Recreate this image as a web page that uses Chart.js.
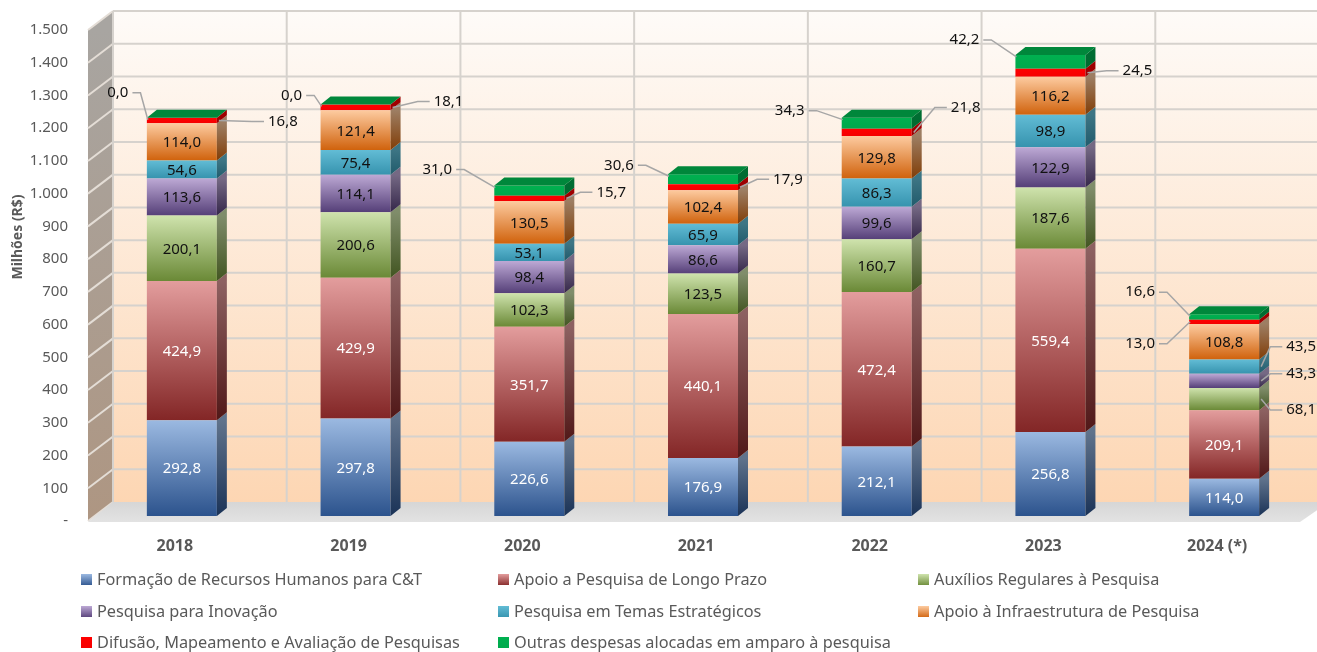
<!DOCTYPE html>
<html>
<head>
<meta charset="utf-8">
<script src="https://cdn.jsdelivr.net/npm/chart.js@4.4.1/dist/chart.umd.min.js"></script>
<style>
  html, body { margin: 0; padding: 0; background: #fff; }
  #chart { display: block; }
</style>
</head>
<body>
<canvas id="chart" width="1317" height="652"></canvas>
<script>
// values (millions R$)
const years = ['2018', '2019', '2020', '2021', '2022', '2023', '2024 (*)'];
const formacao = [292.8, 297.8, 226.6, 176.9, 212.1, 256.8, 114.0];
const apoioLongo = [424.9, 429.9, 351.7, 440.1, 472.4, 559.4, 209.1];
const auxilios = [200.1, 200.6, 102.3, 123.5, 160.7, 187.6, 68.1];
const inovacao = [113.6, 114.1, 98.4, 86.6, 99.6, 122.9, 43.3];
const temas = [54.6, 75.4, 53.1, 65.9, 86.3, 98.9, 43.5];
const infraestrutura = [114.0, 121.4, 130.5, 102.4, 129.8, 116.2, 108.8];
const difusao = [16.8, 18.1, 15.7, 17.9, 21.8, 24.5, 13.0];
const outras = [0.0, 0.0, 31.0, 30.6, 34.3, 42.2, 16.6];

const seriesNames = [
  'Formação de Recursos Humanos para C&T',
  'Apoio a Pesquisa de Longo Prazo',
  'Auxílios Regulares à Pesquisa',
  'Pesquisa para Inovação',
  'Pesquisa em Temas Estratégicos',
  'Apoio à Infraestrutura de Pesquisa',
  'Difusão, Mapeamento e Avaliação de Pesquisas',
  'Outras despesas alocadas em amparo à pesquisa'
];
const seriesValues = [formacao, apoioLongo, auxilios, inovacao, temas, infraestrutura, difusao, outras];

// look
const FONT = '"Noto Sans", "Open Sans", sans-serif';
const palette = [
  { top: '#9bb9e1', bot: '#2c538d' },
  { top: '#e39d9d', bot: '#832626' },
  { top: '#cfe3ad', bot: '#6a8936' },
  { top: '#bda9d5', bot: '#553f78' },
  { top: '#62bcd5', bot: '#3693ae' },
  { top: '#fdcba0', bot: '#d0620c' },
  { top: '#ff0000', bot: '#f40000' },
  { top: '#00b050', bot: '#00a94c' }
];
const labelColors = ['#ffffff', '#ffffff', '#111', '#111', '#111', '#111', '#111', '#111'];

const WALL_DX = 25, WALL_DY = 19;   // depth of the back wall
const BAR_DX = 7, BAR_DY = 5;       // bars sit a bit behind the front plane
const BOX_DX = 10, BOX_DY = 8;      // bar depth

// callouts: [dataset, year, dx, dy, side]  (label offset from the anchor)
const callouts = [
  [7, 0, -30, -27, 'L'], [6, 0, 64, 1, 'R'],
  [7, 1, -30, -11, 'L'], [6, 1, 56, -6, 'R'],
  [7, 2, -58, -18, 'L'], [6, 2, 45, -6, 'R'],
  [7, 3, -50, -11, 'L'], [6, 3, 48, -8, 'R'],
  [7, 4, -53, -9, 'L'], [6, 4, 52, -25, 'R'],
  [7, 5, -52, -17, 'L'], [6, 5, 50, -2, 'R'],
  [7, 6, -50, -24, 'L'], [6, 6, -50, 22, 'L'],
  [4, 6, 40, -20, 'R'], [3, 6, 40, -7, 'R'], [2, 6, 40, 11, 'R']
];

function shade(hex, f) {
  const n = parseInt(hex.slice(1), 16);
  const r = Math.round(((n >> 16) & 255) * f);
  const g = Math.round(((n >> 8) & 255) * f);
  const b = Math.round((n & 255) * f);
  return `rgb(${r},${g},${b})`;
}

function fmt(v) {
  return v.toFixed(1).replace('.', ',');
}

function stackRange(ds, i) {
  let start = 0;
  for (let k = 0; k < ds; k++) start += seriesValues[k][i];
  return [start, start + seriesValues[ds][i]];
}

function frontFill(context) {
  const chart = context.chart;
  const p = palette[context.datasetIndex];
  if (!chart.chartArea || context.type !== 'data') return p.top;
  const y = chart.scales.y;
  const [a, b] = stackRange(context.datasetIndex, context.dataIndex);
  const yTop = y.getPixelForValue(b), yBot = y.getPixelForValue(a);
  if (Math.abs(yBot - yTop) < 1) return p.top;
  const g = chart.ctx.createLinearGradient(0, yTop, 0, yBot);
  g.addColorStop(0, p.top);
  g.addColorStop(1, p.bot);
  return g;
}

const scene3d = {
  id: 'scene3d',
  beforeDraw(chart) {
    const { ctx, chartArea: ca, scales } = chart;
    const y = scales.y;
    const bottom = y.getPixelForValue(0), top = y.getPixelForValue(1500);
    ctx.save();
    // back wall
    const wg = ctx.createLinearGradient(0, top - WALL_DY, 0, bottom - WALL_DY);
    wg.addColorStop(0, '#fefbf8');
    wg.addColorStop(1, '#fdd6b3');
    ctx.fillStyle = wg;
    ctx.fillRect(ca.left + WALL_DX, top - WALL_DY, chart.width - ca.left - WALL_DX, bottom - top);
    // left wall
    const lg = ctx.createLinearGradient(0, top, 0, bottom);
    lg.addColorStop(0, '#a8a5a1');
    lg.addColorStop(1, '#ae9682');
    ctx.fillStyle = lg;
    ctx.beginPath();
    ctx.moveTo(ca.left, top);
    ctx.lineTo(ca.left + WALL_DX, top - WALL_DY);
    ctx.lineTo(ca.left + WALL_DX, bottom - WALL_DY);
    ctx.lineTo(ca.left, bottom);
    ctx.closePath();
    ctx.fill();
    // grid lines
    ctx.lineWidth = 2;
    y.ticks.forEach(t => {
      const py = y.getPixelForValue(t.value);
      if (t.value > 0) {
        ctx.strokeStyle = '#d6d2cd';
        ctx.beginPath();
        ctx.moveTo(ca.left + WALL_DX, py - WALL_DY);
        ctx.lineTo(chart.width, py - WALL_DY);
        ctx.stroke();
      }
      ctx.strokeStyle = '#e4ddd6';
      ctx.beginPath();
      ctx.moveTo(ca.left, py);
      ctx.lineTo(ca.left + WALL_DX, py - WALL_DY);
      ctx.stroke();
    });
    ctx.strokeStyle = '#d6d2cd';
    const w = (ca.right - ca.left) / years.length;
    for (let k = 0; k < years.length; k++) {
      const px = ca.left + k * w + WALL_DX;
      ctx.beginPath();
      ctx.moveTo(px, top - WALL_DY);
      ctx.lineTo(px, bottom - WALL_DY);
      ctx.stroke();
    }
    // floor
    const fg = ctx.createLinearGradient(0, bottom - WALL_DY, 0, bottom);
    fg.addColorStop(0, '#d6d6d6');
    fg.addColorStop(1, '#e2e2e2');
    ctx.fillStyle = fg;
    ctx.beginPath();
    ctx.moveTo(ca.left, bottom + 1);
    ctx.lineTo(ca.left + WALL_DX, bottom - WALL_DY);
    ctx.lineTo(ca.right + WALL_DX, bottom - WALL_DY);
    ctx.lineTo(ca.right - 4, bottom + 1);
    ctx.closePath();
    ctx.fill();
    ctx.restore();
  },
  beforeDatasetsDraw(chart) {
    chart.ctx.save();
    chart.ctx.translate(BAR_DX, -BAR_DY);
  },
  afterDatasetsDraw(chart) {
    const ctx = chart.ctx;
    const n = seriesValues.length;
    // side and top faces
    for (let d = 0; d < n; d++) {
      const meta = chart.getDatasetMeta(d);
      const p = palette[d];
      meta.data.forEach((el) => {
        const { x, y, base, width } = el.getProps(['x', 'y', 'base', 'width'], true);
        const t = Math.min(y, base), b = Math.max(y, base);
        const r = x + width / 2, l = x - width / 2;
        if (b - t > 0.5) {
          const sg = ctx.createLinearGradient(0, t, 0, b);
          sg.addColorStop(0, shade(p.top, 0.62));
          sg.addColorStop(1, shade(p.bot, 0.62));
          ctx.fillStyle = sg;
          ctx.beginPath();
          ctx.moveTo(r, t);
          ctx.lineTo(r + BOX_DX, t - BOX_DY);
          ctx.lineTo(r + BOX_DX, b - BOX_DY);
          ctx.lineTo(r, b);
          ctx.closePath();
          ctx.fill();
        }
        if (d === n - 1) {
          ctx.fillStyle = '#00873b';
          ctx.beginPath();
          ctx.moveTo(l, t);
          ctx.lineTo(l + BOX_DX, t - BOX_DY);
          ctx.lineTo(r + BOX_DX, t - BOX_DY);
          ctx.lineTo(r, t);
          ctx.closePath();
          ctx.fill();
        }
      });
    }
    // inside labels
    const outside = new Set(callouts.map(c => c[0] + ':' + c[1]));
    ctx.font = '15px ' + FONT;
    ctx.textAlign = 'center';
    ctx.textBaseline = 'middle';
    for (let d = 0; d < n; d++) {
      const meta = chart.getDatasetMeta(d);
      meta.data.forEach((el, i) => {
        if (outside.has(d + ':' + i)) return;
        const { x, y, base } = el.getProps(['x', 'y', 'base'], true);
        ctx.fillStyle = labelColors[d];
        ctx.fillText(fmt(seriesValues[d][i]), x, (y + base) / 2 + 1);
      });
    }
    ctx.restore();

    // callouts with leader lines
    ctx.save();
    ctx.font = '15px ' + FONT;
    ctx.textAlign = 'center';
    ctx.textBaseline = 'middle';
    callouts.forEach(([d, i, dx, dy, side]) => {
      const el = chart.getDatasetMeta(d).data[i];
      const { x, y, base, width } = el.getProps(['x', 'y', 'base', 'width'], true);
      const t = Math.min(y, base) - BAR_DY, mid = (y + base) / 2 - BAR_DY;
      let ax, ay;
      if (d === n - 1) { ax = x - width / 2 + BAR_DX + 1; ay = t + 2; }
      else if (dx < 0) { ax = x - width / 2 + BAR_DX + 1; ay = mid; }
      else { ax = x + width / 2 + BAR_DX + 2; ay = mid; }
      const lx = ax + dx, ly = ay + dy;
      const text = fmt(seriesValues[d][i]);
      const tw = ctx.measureText(text).width;
      ctx.strokeStyle = '#a6a6a6';
      ctx.lineWidth = 1.5;
      ctx.beginPath();
      if (side === 'L') {
        ctx.moveTo(lx + tw / 2 + 4, ly);
        ctx.lineTo(lx + tw / 2 + 12, ly);
      } else {
        ctx.moveTo(lx - tw / 2 - 4, ly);
        ctx.lineTo(lx - tw / 2 - 16, ly);
      }
      ctx.lineTo(ax, ay);
      ctx.stroke();
      ctx.fillStyle = '#111';
      ctx.fillText(text, lx, ly);
    });
    ctx.restore();
  },
  afterDraw(chart) {
    const ctx = chart.ctx;
    ctx.save();
    // axis title
    ctx.translate(18, 237);
    ctx.rotate(-Math.PI / 2);
    ctx.font = 'bold 14px ' + FONT;
    ctx.fillStyle = '#595959';
    ctx.textAlign = 'center';
    ctx.textBaseline = 'middle';
    ctx.fillText('Milhões (R$)', 0, 0);
    ctx.restore();
    // legend, three columns
    const cols = [81, 498, 918], rows = [580, 612, 643];
    ctx.save();
    ctx.font = '16.3px ' + FONT;
    ctx.textBaseline = 'middle';
    seriesNames.forEach((name, k) => {
      const cx = cols[k % 3], cy = rows[Math.floor(k / 3)];
      const p = palette[k];
      const g = ctx.createLinearGradient(0, cy - 6, 0, cy + 6);
      g.addColorStop(0, p.top);
      g.addColorStop(1, p.bot);
      ctx.fillStyle = g;
      ctx.fillRect(cx, cy - 6, 11, 11);
      ctx.fillStyle = '#595959';
      ctx.fillText(name, cx + 16, cy);
    });
    ctx.restore();
  }
};

new Chart(document.getElementById('chart'), {
  type: 'bar',
  data: {
    labels: years,
    datasets: seriesValues.map((vals, k) => ({
      label: seriesNames[k],
      data: vals,
      backgroundColor: frontFill,
      borderWidth: 0,
      categoryPercentage: 1,
      barPercentage: 0.403
    }))
  },
  options: {
    responsive: false,
    animation: false,
    layout: { padding: { top: 30, right: 13, left: 0, bottom: 0 } },
    scales: {
      x: {
        stacked: true,
        grid: { display: false, drawTicks: false },
        border: { display: false },
        ticks: { color: '#595959', padding: 16, font: { family: FONT, size: 16, weight: 'bold' } },
        afterFit(s) { s.height = 131; }
      },
      y: {
        stacked: true,
        min: 0,
        max: 1500,
        grid: { display: false, drawTicks: false },
        border: { display: false },
        ticks: {
          stepSize: 100,
          color: '#595959',
          padding: 20,
          font: { family: FONT, size: 15 },
          callback: v => v === 0 ? '-' : (v >= 1000 ? Math.floor(v / 1000) + '.' + String(v % 1000).padStart(3, '0') : String(v))
        },
        afterFit(s) { s.width = 88; }
      }
    },
    plugins: {
      legend: { display: false },
      tooltip: { enabled: false }
    }
  },
  plugins: [scene3d]
});
</script>
</body>
</html>
